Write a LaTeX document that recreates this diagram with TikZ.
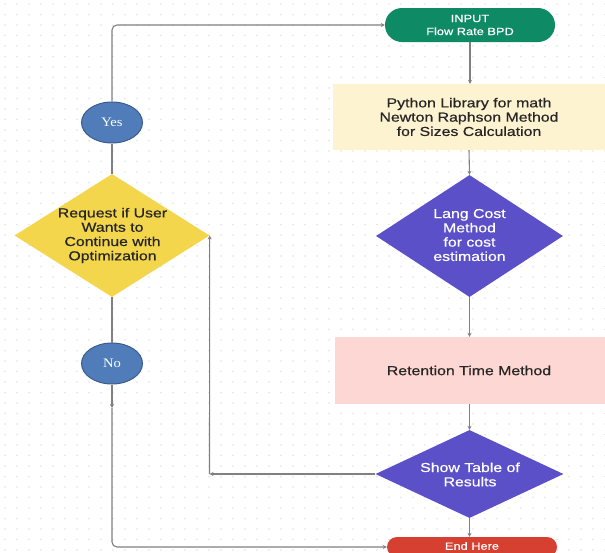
\documentclass[tikz,border=0pt]{standalone}
\usepackage{fontspec}
\setmainfont{Liberation Sans}[FakeStretch=1.22,FakeBold=0.6]
\newfontfamily\yesfont{Liberation Serif}[FakeStretch=1.12]
\usetikzlibrary{shapes.geometric,arrows.meta}
\definecolor{termgreen}{RGB}{14,138,100}
\definecolor{cream}{RGB}{254,243,208}
\definecolor{violet}{RGB}{91,80,200}
\definecolor{pinkbox}{RGB}{253,215,211}
\definecolor{endred}{RGB}{214,64,48}
\definecolor{yellowd}{RGB}{243,214,76}
\definecolor{ellblue}{RGB}{80,125,186}
\definecolor{ellborder}{RGB}{58,92,140}
\definecolor{linegrey}{RGB}{128,128,128}
\definecolor{dotgrey}{RGB}{225,225,225}
\begin{document}
\begin{tikzpicture}[x=1pt,y=-1pt,
  bigtext/.style={font=\fontsize{13}{14.3}\selectfont, align=center, text=black!85},
  smalltext/.style={font=\fontsize{10.5}{13}\selectfont, align=center, text=white},
  term/.style={rectangle, draw=none, inner sep=0pt},
  boxnode/.style={rectangle, draw=none, inner sep=0pt},
  diam/.style={diamond, draw=none, inner sep=0pt},
  answer/.style={ellipse, draw=ellborder, line width=1pt, fill=ellblue, minimum width=61pt, minimum height=41pt, inner sep=0pt, text=white, font=\yesfont\fontsize{13}{15}\selectfont},
  conn/.style={draw=linegrey, line width=1.1pt},
  arr/.style={conn, -{Stealth[length=4pt,width=4pt]}},
]
\useasboundingbox (0,0) rectangle (605,552);
\clip (0,0) rectangle (605,552);
\fill[white] (0,0) rectangle (605,552);
\foreach \i in {0,...,50} {
  \foreach \j in {0,...,53} {
    \fill[dotgrey] (\i*12+5, \j*10.5+4) circle (0.8pt);
  }
}

% terminals
\node[term, fill=termgreen, rounded corners=17pt, minimum width=170pt, minimum height=34pt] (input) at (470,25) {};
\node[smalltext] (inputtext) at (470,25) {INPUT\\Flow Rate BPD};
\node[term, fill=endred, rounded corners=10pt, minimum width=170pt, minimum height=20pt] (endhere) at (472,547) {};
\node[smalltext] (endtext) at (472,546) {End Here};

% boxes
\node[boxnode, fill=cream, minimum width=272pt, minimum height=66pt] (python) at (469,117) {};
\node[bigtext] (pythontext) at (469,117) {Python Library for math\\Newton Raphson Method\\for Sizes Calculation};
\node[boxnode, fill=pinkbox, minimum width=270pt, minimum height=67pt] (ret) at (470,370.5) {};
\node[bigtext] (rettext) at (469,370.5) {Retention Time Method};

% diamonds
\node[diam, fill=violet, minimum width=187pt, minimum height=122pt] (lang) at (469.5,236) {};
\node[bigtext, text=white] (langtext) at (469.5,235) {Lang Cost\\Method\\for cost\\estimation};
\node[diam, fill=violet, minimum width=188pt, minimum height=88pt] (show) at (469.5,474) {};
\node[bigtext, text=white] (showtext) at (470,474.5) {Show Table of\\Results};
\node[diam, fill=yellowd, minimum width=195pt, minimum height=123pt] (req) at (112,235.5) {};
\node[bigtext] (reqtext) at (112.5,235.5) {Request if User\\Wants to\\Continue with\\Optimization};

% yes / no
\node[answer] (yes) at (112,122.5) {Yes};
\node[answer] (no) at (112,363.5) {No};

\coordinate (showcorner) at (209.5,474);
\coordinate (nomid) at (112,408);

% main chain
\draw[arr] (input.south) -- (input.south |- python.north);
\draw[arr] (python.south) -- (lang.north);
\draw[arr] (lang.south) -- (lang.south |- ret.north);
\draw[arr] (ret.south -| show.north) -- (show.north);
\draw[arr] (show.south) -- (show.south |- endhere.north);

% loop back
\draw[arr] (show.west) -- (showcorner);
\draw[arr] (showcorner) -- (req.east);

% yes branch
\draw[conn] (req.north) -- (yes.south);
\draw[arr, rounded corners=5pt] (yes.north) |- (input.west);

% no branch
\draw[conn] (req.south) -- (no.north);
\draw[arr] (no.south) -- (nomid);
\draw[arr, rounded corners=5pt] (nomid) |- (endhere.west);
\end{tikzpicture}
\end{document}
